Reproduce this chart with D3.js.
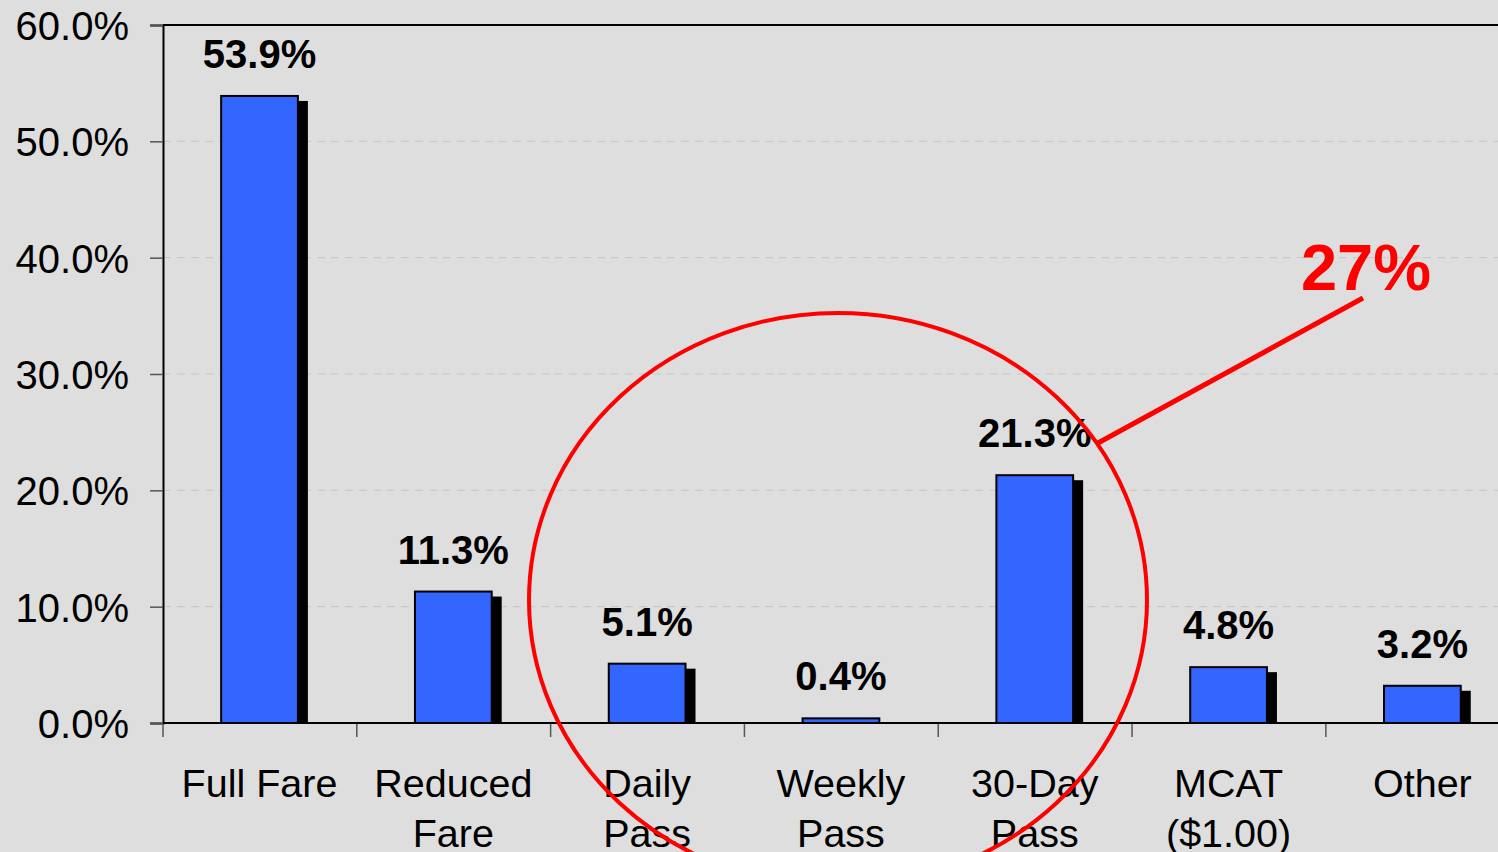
<!DOCTYPE html>
<html>
<head>
<meta charset="utf-8">
<script src="https://cdn.jsdelivr.net/npm/d3@7"></script>
<style>
  html, body { margin: 0; padding: 0; background: #dedede; overflow: hidden; }
  svg { display: block; font-family: "Liberation Sans", Arial, sans-serif; }
</style>
</head>
<body>
<div id="chart"></div>
<script>
// fare type shares
var categories = ["Full Fare", "Reduced Fare", "Daily Pass", "Weekly Pass", "30-Day Pass", "MCAT ($1.00)", "Other"]
var labelLines = [["Full Fare"], ["Reduced", "Fare"], ["Daily", "Pass"], ["Weekly", "Pass"], ["30-Day", "Pass"], ["MCAT", "($1.00)"], ["Other"]]
var shares = [53.9, 11.3, 5.1, 0.4, 21.3, 4.8, 3.2]
var yTicks = [0, 10, 20, 30, 40, 50, 60]
var calloutText = "27%"

const W = 1498, H = 852
const svg = d3.select("#chart").append("svg")
    .attr("width", W)
    .attr("height", H)

svg.append("rect").attr("width", W).attr("height", H).attr("fill", "#dedede")

const plotLeft = 163, plotTop = 25, plotBottom = 723
const step = 193.7

const x = d3.scaleBand()
    .domain(categories)
    .range([plotLeft, plotLeft + step * 7])
    .paddingInner(0.604)
    .paddingOuter(0.3)

const y = d3.scaleLinear()
    .domain([0, 60])
    .range([plotBottom, plotTop])

// grid lines
svg.append("g")
    .selectAll("line")
    .data(yTicks.filter(d => d > 0 && d < 60))
    .enter()
    .append("line")
    .attr("x1", plotLeft)
    .attr("x2", W)
    .attr("y1", d => y(d))
    .attr("y2", d => y(d))
    .attr("stroke", "#c6c6c6")
    .attr("stroke-width", 1)
    .attr("stroke-dasharray", "8,6")

// top border
svg.append("line")
    .attr("x1", plotLeft).attr("x2", W)
    .attr("y1", y(60)).attr("y2", y(60))
    .attr("stroke", "#000").attr("stroke-width", 2)

// y axis
const yAxis = svg.append("g")
    .attr("transform", "translate(" + plotLeft + ",0)")
    .call(d3.axisLeft(y).tickValues(yTicks).tickSize(13).tickFormat(d => d.toFixed(1) + "%"))
yAxis.select(".domain").attr("stroke", "#000").attr("stroke-width", 2)
yAxis.selectAll(".tick line").attr("stroke", "#555").attr("stroke-width", 1.5)
yAxis.selectAll(".tick text")
    .attr("x", -34)
    .attr("dy", "0.36em")
    .style("font-size", "40px")
    .style("font-family", "'Liberation Sans', Arial, sans-serif")
    .attr("fill", "#000")

// x ticks at band boundaries
const bounds = d3.range(categories.length + 1).map(i => plotLeft + x.step() * i)
svg.append("g")
    .selectAll("line")
    .data(bounds)
    .enter()
    .append("line")
    .attr("x1", d => d).attr("x2", d => d)
    .attr("y1", plotBottom).attr("y2", plotBottom + 14)
    .attr("stroke", "#555").attr("stroke-width", 1.5)

// shadows
svg.append("g")
    .selectAll("rect")
    .data(shares)
    .enter()
    .append("rect")
    .attr("x", (d, i) => x(categories[i]) + 10)
    .attr("y", d => Math.min(y(d) + 5, plotBottom))
    .attr("width", x.bandwidth())
    .attr("height", d => Math.max(0, plotBottom - y(d) - 5))
    .attr("fill", "#000")

// bars
svg.append("g")
    .selectAll("rect")
    .data(shares)
    .enter()
    .append("rect")
    .attr("x", (d, i) => x(categories[i]))
    .attr("y", d => y(d))
    .attr("width", x.bandwidth())
    .attr("height", d => plotBottom - y(d))
    .attr("fill", "#3366ff")
    .attr("stroke", "#000")
    .attr("stroke-width", 2)

// x axis line
svg.append("line")
    .attr("x1", plotLeft).attr("x2", W)
    .attr("y1", plotBottom).attr("y2", plotBottom)
    .attr("stroke", "#000").attr("stroke-width", 2)

// value labels
svg.append("g")
    .selectAll("text")
    .data(shares)
    .enter()
    .append("text")
    .attr("x", (d, i) => x(categories[i]) + x.bandwidth() / 2)
    .attr("y", d => y(d) - 28)
    .attr("text-anchor", "middle")
    .style("font-size", "40px")
    .style("font-weight", "bold")
    .text(d => d.toFixed(1) + "%")

// category labels
const cats = svg.append("g")
    .selectAll("text")
    .data(categories)
    .enter()
    .append("text")
    .attr("x", d => x(d) + x.bandwidth() / 2)
    .attr("y", 797)
    .attr("text-anchor", "middle")
    .style("font-size", "39.5px")

cats.selectAll("tspan")
    .data((d, i) => labelLines[i])
    .enter()
    .append("tspan")
    .attr("x", function () { return d3.select(this.parentNode).attr("x") })
    .attr("dy", (d, i) => i === 0 ? 0 : 50)
    .text(d => d)

// red annotation: ellipse round the pass products, callout line and total
svg.append("ellipse")
    .attr("cx", 838)
    .attr("cy", 600)
    .attr("rx", 309)
    .attr("ry", 287)
    .attr("fill", "none")
    .attr("stroke", "#ff0000")
    .attr("stroke-width", 4)

svg.append("line")
    .attr("x1", 1098).attr("y1", 443)
    .attr("x2", 1363).attr("y2", 298)
    .attr("stroke", "#ff0000")
    .attr("stroke-width", 5)

svg.append("text")
    .attr("x", 1366)
    .attr("y", 290)
    .attr("text-anchor", "middle")
    .style("font-size", "65px")
    .style("font-weight", "bold")
    .attr("fill", "#ff0000")
    .text(calloutText)
</script>
</body>
</html>
